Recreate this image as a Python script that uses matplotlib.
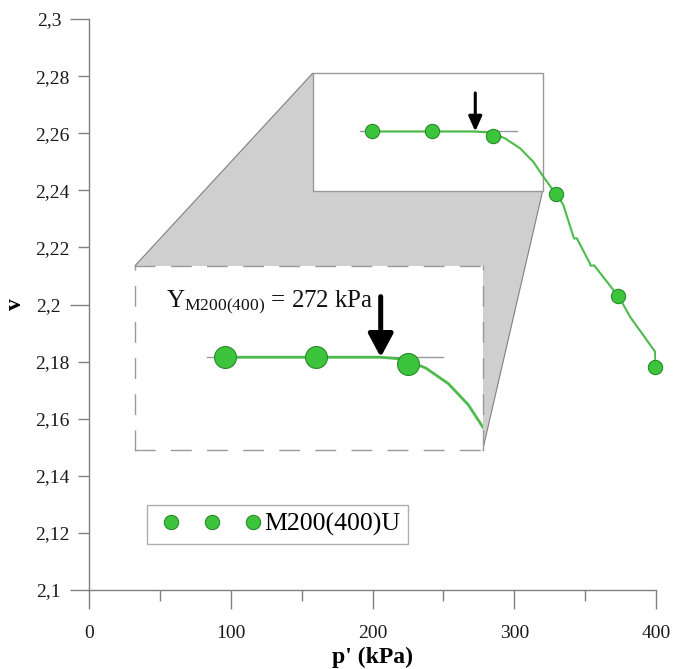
import matplotlib
matplotlib.use('Agg')
import matplotlib.pyplot as plt
from matplotlib.patches import Rectangle, Polygon
from matplotlib.legend_handler import HandlerLine2D

plt.rcParams['font.family'] = ['Liberation Serif', 'DejaVu Serif']
plt.rcParams['mathtext.fontset'] = 'custom'
plt.rcParams['mathtext.rm'] = 'Liberation Serif'

# ---------------- data ----------------
p_points = [199.9, 242.2, 285.2, 329.6, 373.4, 399.6]
v_points = [2.2606, 2.2606, 2.2591, 2.2387, 2.2031, 2.1782]

curve_p = [196.0, 272.0, 280.0, 286.0, 293.5, 304.1, 313.4, 320.5, 326.4, 329.6,
           334.6, 341.7, 342.2, 344.1, 353.4, 353.8, 356.4, 369.9, 373.4, 381.7,
           399.3, 399.6]
curve_v = [2.2606, 2.2606, 2.2603, 2.2596, 2.2582, 2.2547, 2.2500, 2.2448, 2.2407, 2.2389,
           2.2349, 2.2238, 2.2231, 2.2232, 2.2144, 2.2136, 2.2137, 2.2051, 2.2031, 2.1957,
           2.1835, 2.1806]

ref_line_p = [191.2, 301.7]
ref_line_v = [2.2606, 2.2606]

yield_p = 272.5
arrow_v = [2.2741, 2.2606]   # tail, tip

series_label = 'M200(400)U'
yield_label = r'$\mathregular{Y_{M200(400)}}$ = 272 kPa'

x_ticks_major = [0, 100, 200, 300, 400]
x_tick_labels = ['0', '100', '200', '300', '400']
x_ticks_minor = [50, 150, 250, 350]
y_ticks_major = [2.1, 2.2, 2.3]
y_major_labels = ['2,1', '2,2', '2,3']
y_ticks_minor = [2.12, 2.14, 2.16, 2.18, 2.22, 2.24, 2.26, 2.28]
y_minor_labels = ['2,12', '2,14', '2,16', '2,18', '2,22', '2,24', '2,26', '2,28']
x_label = "p' (kPa)"
y_label = 'v'

# zoomed region and where its magnified copy sits (data coordinates)
zoom_x = (157.8, 320.1)
zoom_y = (2.2399, 2.2810)
inset_x = (32.5, 277.7)
inset_y = (2.1490, 2.2136)

# ---------------- style ----------------
green_face = '#3cc43c'
green_edge = '#2a8a2a'
green_line = '#4cbb4c'
axis_gray = '#808080'

fig = plt.figure(figsize=(6.77, 6.69), dpi=100)
ax = fig.add_axes([89/677, 1-590/669, 567/677, 571/669])
ax.set_xlim(0, 400)
ax.set_ylim(2.1, 2.3)

for s in ['top', 'right']:
    ax.spines[s].set_visible(False)
for s in ['left', 'bottom']:
    ax.spines[s].set_color(axis_gray)
    ax.spines[s].set_linewidth(1.0)

ax.set_xticks(x_ticks_major)
ax.set_xticklabels(x_tick_labels)
ax.set_xticks(x_ticks_minor, minor=True)
ax.set_yticks(y_ticks_major)
ax.set_yticklabels(y_major_labels)
ax.set_yticks(y_ticks_minor, minor=True)
ax.set_yticklabels(y_minor_labels, minor=True)

ax.tick_params(axis='both', which='major', direction='out', length=13.5, width=1.0,
               color=axis_gray, labelsize=14, labelcolor='#1a1a1a')
ax.tick_params(axis='both', which='minor', direction='out', length=7.7, width=1.0,
               color=axis_gray, labelsize=14, labelcolor='#1a1a1a')
ax.tick_params(axis='x', which='major', pad=11.5)
ax.tick_params(axis='y', which='both', pad=6.5)

ax.set_xlabel(x_label, fontsize=17, fontweight='bold', labelpad=4)
ax.set_ylabel(y_label, fontsize=17, fontweight='bold', labelpad=6)

# connecting gray polygon + zoom frame
poly = Polygon([(zoom_x[0], zoom_y[1]), (inset_x[0], inset_y[1]),
                (inset_x[1], inset_y[0]), (zoom_x[1], zoom_y[0])],
               closed=True, facecolor='#cfcfcf', edgecolor='#808080', lw=0.8, zorder=1.1)
ax.add_patch(poly)
ax.add_patch(Rectangle((zoom_x[0], zoom_y[0]), zoom_x[1]-zoom_x[0], zoom_y[1]-zoom_y[0],
                       facecolor='white', edgecolor='#999999', lw=1.0, zorder=1.5))


def draw_content(a, msize, lw, arrow_lw, head_len, head_w, clip):
    a.plot(ref_line_p, ref_line_v, color='#999999', lw=1.0, zorder=2)
    a.plot(curve_p, curve_v, color=green_line, lw=lw, zorder=2.5)
    ln, = a.plot(p_points, v_points, linestyle='none', marker='o', markersize=msize,
                 markerfacecolor=green_face, markeredgecolor=green_edge,
                 markeredgewidth=0.8, zorder=3, clip_on=clip, label=series_label)
    a.annotate('', xy=(yield_p, arrow_v[1]), xytext=(yield_p, arrow_v[0]),
               arrowprops=dict(arrowstyle=f'-|>,head_length={head_len},head_width={head_w}',
                               mutation_scale=1, lw=arrow_lw, color='black',
                               shrinkA=0, shrinkB=0), zorder=4)
    return ln


pts = draw_content(ax, 10.3, 1.5, 2.2, 9, 4, False)

# magnified copy
axins = ax.inset_axes([inset_x[0], inset_y[0], inset_x[1]-inset_x[0], inset_y[1]-inset_y[0]],
                      transform=ax.transData)
axins.set_xlim(*zoom_x)
axins.set_ylim(*zoom_y)
axins.set_xticks([])
axins.set_yticks([])
for s in axins.spines.values():
    s.set_linestyle((0, (14, 12)))
    s.set_color('#999999')
    s.set_linewidth(1.0)
draw_content(axins, 15.8, 2.0, 3.6, 14, 7.5, True)
axins.text(0.088, 0.777, yield_label, transform=axins.transAxes, fontsize=18,
           va='baseline', ha='left', color='#111111')

leg = ax.legend(handles=[pts], loc='upper left', bbox_to_anchor=((147-89)/567, (590-505)/571),
                borderaxespad=0, numpoints=3, frameon=True, fancybox=False,
                edgecolor='#999999', handlelength=4.44, handletextpad=-0.2, borderpad=0.3,
                prop=dict(size=18.6),
                handler_map={pts: HandlerLine2D(numpoints=3, marker_pad=0.62)})
leg.get_frame().set_linewidth(1.0)
leg.set_zorder(6)

fig.savefig('out.png', dpi=100)
